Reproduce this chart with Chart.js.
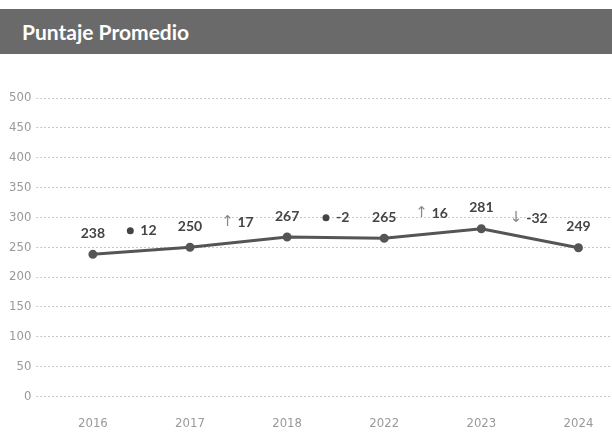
<!DOCTYPE html>
<html>
<head>
<meta charset="utf-8">
<script src="https://cdn.jsdelivr.net/npm/chart.js@4"></script>
<style>
  html, body { margin:0; padding:0; background:#fff; overflow:hidden; width:612px; height:433px; }
  #header {
    position:absolute; left:0; top:9px; width:612px; height:45px;
    background:#6a6a6a;
    color:#fff; font-family:Lato, "Open Sans", sans-serif; font-weight:bold; font-size:21px;
    line-height:45px; padding-left:22px; box-sizing:border-box;
  }
  #puntaje { position:absolute; left:0; top:54px; }
</style>
</head>
<body>
<div id="header">Puntaje Promedio</div>
<canvas id="puntaje" width="634" height="379"></canvas>
<script>
var years = ["2016", "2017", "2018", "2022", "2023", "2024"];
var scores = [238, 250, 267, 265, 281, 249];
var changes = [12, 17, -2, 16, -32];
var marks = ["●", "↑", "●", "↑", "↓"];

var narrow = "'Liberation Sans Narrow', 'DejaVu Sans Condensed', sans-serif";

var etiquetas = {
  id: "etiquetas",
  afterDatasetsDraw: function(chart) {
    var ctx = chart.ctx;
    var pts = chart.getDatasetMeta(0).data;
    var y = chart.scales.y;
    ctx.save();
    ctx.textBaseline = "middle";
    ctx.textAlign = "center";
    ctx.font = "bold 14px Lato, 'Open Sans', sans-serif";
    ctx.fillStyle = "#444";
    for (var i = 0; i < pts.length; i++) {
      ctx.fillText(scores[i], pts[i].x, pts[i].y - 21);
    }
    for (var j = 0; j < changes.length; j++) {
      var cx = (pts[j].x + pts[j + 1].x) / 2;
      var cy = y.getPixelForValue((scores[j] + scores[j + 1]) / 2) - 20;
      var num = String(changes[j]);
      ctx.font = "bold 14px Lato, 'Open Sans', sans-serif";
      var nw = ctx.measureText(num).width;
      var mw = 8;
      var left = cx - (mw + 6 + nw) / 2;
      if (marks[j] == "●") {
        ctx.fillStyle = "#444";
        ctx.beginPath();
        ctx.arc(left + 4, cy, 3.5, 0, Math.PI * 2);
        ctx.fill();
      } else {
        ctx.fillStyle = "#888";
        ctx.font = "15px 'DejaVu Sans', sans-serif";
        ctx.textAlign = "center";
        ctx.fillText(marks[j], left + 4, cy);
      }
      ctx.font = "bold 14px Lato, 'Open Sans', sans-serif";
      ctx.fillStyle = "#444";
      ctx.textAlign = "left";
      ctx.fillText(num, left + mw + 6, cy);
      ctx.textAlign = "center";
    }
    ctx.restore();
  }
};

var puntaje = document.getElementById("puntaje").getContext("2d");

var chart = new Chart(puntaje, {
  type: "line",
  data: {
    labels: years,
    datasets: [
      {
        label: "Puntaje Promedio",
        data: scores,
        borderColor: "#555",
        backgroundColor: "#555",
        borderWidth: 3,
        pointRadius: 3,
        tension: 0
      }
    ]
  },
  plugins: [etiquetas],
  options: {
    responsive: false,
    animation: false,
    layout: { padding: { top: 44, left: 4, right: 0, bottom: 1 } },
    plugins: {
      legend: { display: false },
      tooltip: { enabled: false }
    },
    scales: {
      x: {
        offset: true,
        grid: { display: true, drawOnChartArea: false, drawTicks: true, tickLength: 18, color: "rgba(0,0,0,0)" },
        border: { display: false },
        ticks: { color: "#999", font: { family: narrow, size: 13 }, padding: 1, maxRotation: 0 }
      },
      y: {
        min: 0,
        max: 500,
        grid: { color: "#c8c8c8", tickLength: 8, tickBorderDash: [2, 2] },
        border: { display: false, dash: [2, 2] },
        ticks: { stepSize: 50, color: "#999", font: { family: narrow, size: 13 }, padding: 5 }
      }
    }
  }
});
</script>
</body>
</html>
